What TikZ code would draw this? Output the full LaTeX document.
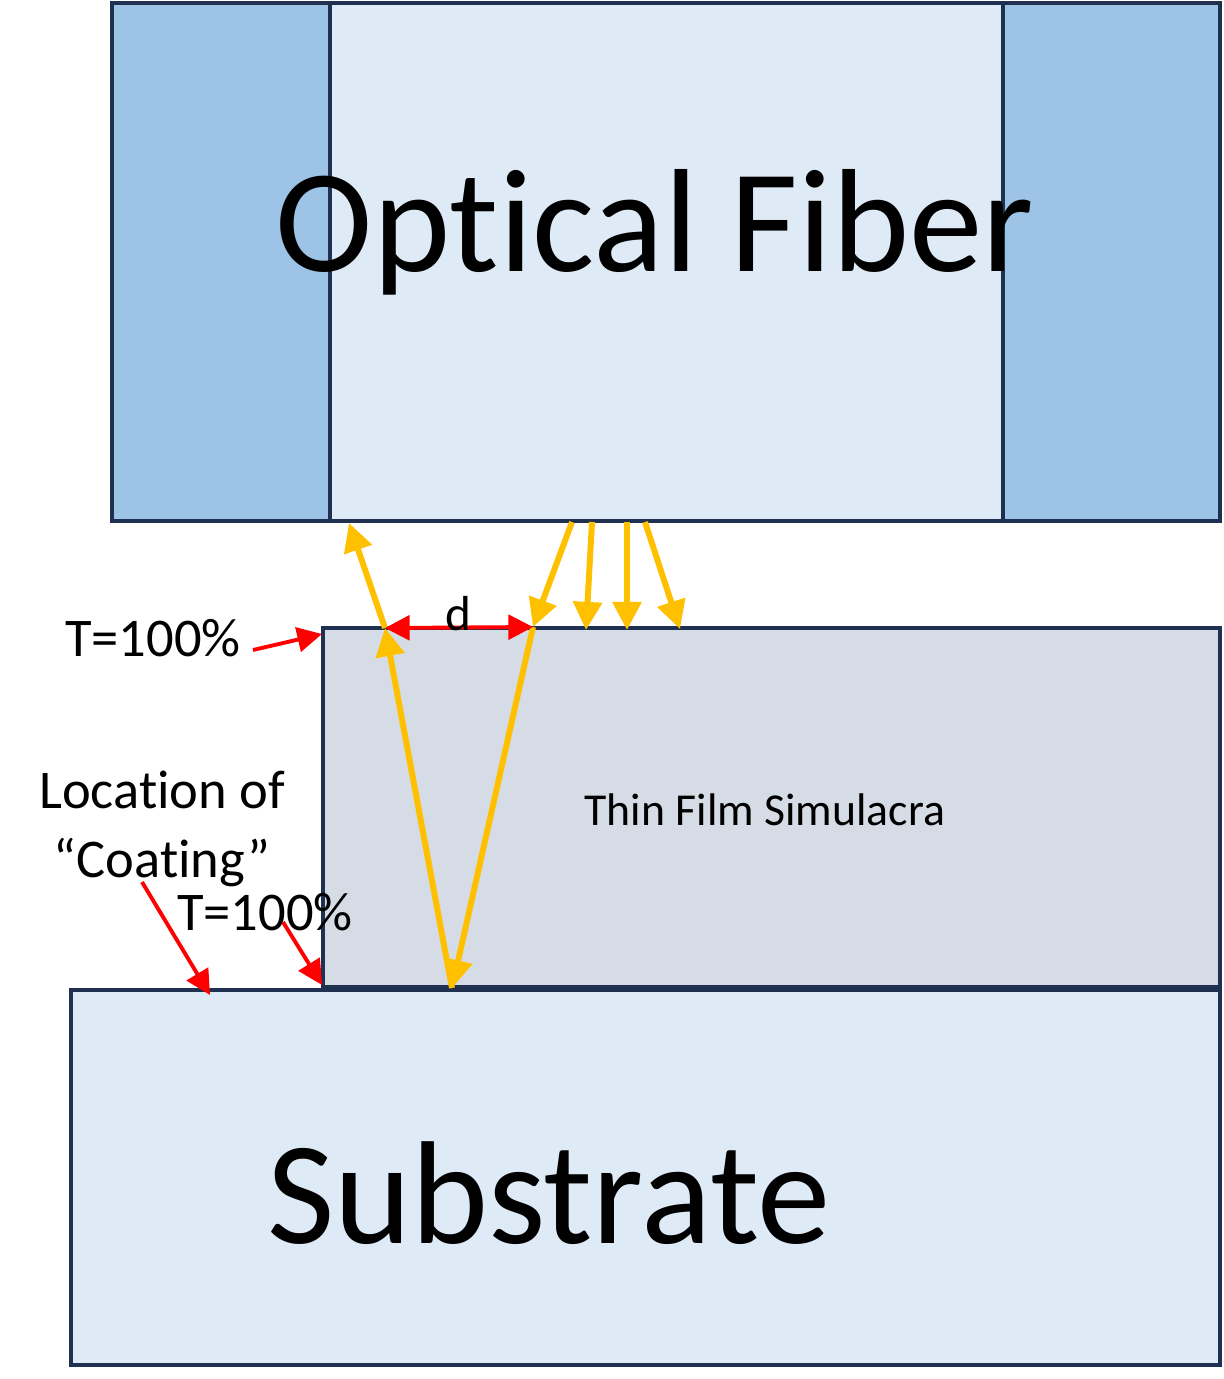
\documentclass[tikz,border=0pt]{standalone}
\usepackage{fontspec}
\setmainfont{Carlito}[Ligatures=NoCommon]
\usetikzlibrary{arrows.meta,positioning}
\definecolor{navy}{HTML}{1F3050}
\definecolor{cladcol}{HTML}{9DC3E6}
\definecolor{corecol}{HTML}{DEEBF7}
\definecolor{filmcol}{HTML}{D6DCE5}
\definecolor{raycol}{HTML}{FFC000}
\tikzstyle{layer} = [draw=navy,line width=1.4pt]
\tikzstyle{ray} = [draw=raycol,line width=1.7pt,-{Triangle[length=8pt,width=8pt]}]
\tikzstyle{pointer} = [draw=red,line width=1.1pt,-{Triangle[length=7pt,width=7pt]}]
\tikzstyle{label} = [inner sep=0pt,align=center]
\tikzset{>=latex}

\begin{document}
\begin{tikzpicture}[x=0.01cm,y=-0.01cm]
    \useasboundingbox (0,0) rectangle (1223,1379);

    % fiber, film and substrate
    \draw [layer,fill=cladcol] (112,3) rectangle (1220,521);
    \draw [layer,fill=corecol] (330,3) rectangle (1003,521);
    \draw [layer,fill=filmcol] (323,628) rectangle (1220,987);
    \draw [layer,fill=corecol] (71,990) rectangle (1220,1365);

    \node [label,font=\fontsize{41.8}{48}\selectfont] (fiber) at (655,232) {Optical Fiber};
    \node [label,font=\fontsize{41.7}{48}\selectfont] (substrate) at (549,1193) {Substrate};
    \node [label,font=\fontsize{13}{15}\selectfont] (film) at (765,810) {Thin Film Simulacra};
    \node [label,font=\fontsize{15.5}{18}\selectfont] (ttop) at (153,638) {T=100\%};
    \node [label,font=\fontsize{15.5}{19.5}\selectfont] (coating) at (162,829) {Location of\\“Coating”};
    \node [label,font=\fontsize{15.5}{18}\selectfont] (tbot) at (265,912) {T=100\%};

    % ray path
    \coordinate (exitL) at (349,523);
    \coordinate (upL) at (385,628);
    \coordinate (upR) at (533,627);
    \coordinate (bot) at (452,988);
    \coordinate (inA) at (572,522);
    \coordinate (inB) at (592,522);
    \coordinate (inC) at (627,522);
    \coordinate (inD) at (645,522);
    \coordinate (hitB) at (586,630);
    \coordinate (hitC) at (627,630);
    \coordinate (hitD) at (680,629);

    \draw [ray] (bot) -- (upL);
    \draw [ray] (upL) -- (exitL);
    \draw [ray] (inA) -- (upR);
    \draw [ray] (upR) -- (bot);
    \draw [ray] (inB) -- (hitB);
    \draw [ray] (inC) -- (hitC);
    \draw [ray] (inD) -- (hitD);

    % separation and pointers
    \draw [pointer,{Triangle[length=7pt,width=7pt]}-{Triangle[length=7pt,width=7pt]}] (upL) -- (upR);
    \node [label,font=\fontsize{14}{16}\selectfont] (dlabel) at (458,614) {d};

    \coordinate (ttopfrom) at (253,650);
    \coordinate (ttopto) at (322,634);
    \coordinate (coatfrom) at (142,882);
    \coordinate (coatto) at (210,995);
    \coordinate (tbotfrom) at (283,922);
    \coordinate (tbotto) at (322,985);
    \draw [pointer] (ttopfrom) -- (ttopto);
    \draw [pointer] (coatfrom) -- (coatto);
    \draw [pointer] (tbotfrom) -- (tbotto);
\end{tikzpicture}
\end{document}
